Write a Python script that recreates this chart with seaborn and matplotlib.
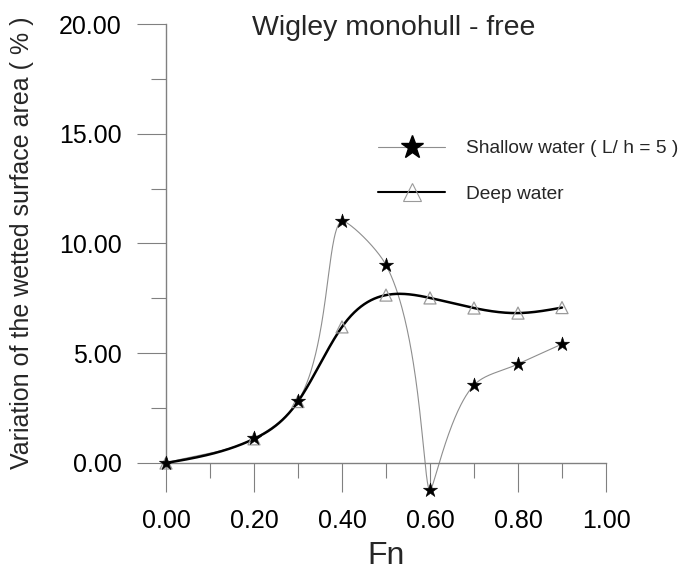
import numpy as np
import pandas as pd
import matplotlib
matplotlib.use("Agg")
import matplotlib.pyplot as plt
import seaborn as sns
from matplotlib.lines import Line2D
from matplotlib.ticker import MultipleLocator, FormatStrFormatter

# ---- data ----
fn_shallow = [0.0, 0.2, 0.3, 0.4, 0.5, 0.6, 0.7, 0.8, 0.9]
var_shallow = [0.0, 1.12, 2.82, 11.02, 9.02, -1.25, 3.55, 4.51, 5.42]
fn_deep = [0.0, 0.2, 0.3, 0.4, 0.5, 0.6, 0.7, 0.8, 0.9]
var_deep = [0.0, 1.10, 2.80, 6.20, 7.65, 7.52, 7.06, 6.83, 7.08]
labels = ["Shallow water ( L/ h = 5 )", "Deep water"]
title = "Wigley monohull - free"
xlabel = "Fn"
ylabel = "Variation of the wetted surface area ( % )"

# ---- layout (figure pixels) ----
FIG_W, FIG_H = 686, 574
AX_L, AX_R, AX_B, AX_T = 166, 606, 463, 24
X_RANGE, Y_RANGE = (0.0, 1.0), (0.0, 20.0)
SX = (AX_R - AX_L) / (X_RANGE[1] - X_RANGE[0])
SY = (AX_B - AX_T) / (Y_RANGE[1] - Y_RANGE[0])


def natural_spline(t, y, tt):
    t = np.asarray(t, float)
    y = np.asarray(y, float)
    n = len(t)
    h = np.diff(t)
    A = np.zeros((n, n))
    r = np.zeros(n)
    A[0, 0] = A[-1, -1] = 1.0
    for i in range(1, n - 1):
        A[i, i - 1] = h[i - 1]
        A[i, i] = 2 * (h[i - 1] + h[i])
        A[i, i + 1] = h[i]
        r[i] = 3 * ((y[i + 1] - y[i]) / h[i] - (y[i] - y[i - 1]) / h[i - 1])
    c = np.linalg.solve(A, r)
    b = (y[1:] - y[:-1]) / h - h * (2 * c[:-1] + c[1:]) / 3
    d = (c[1:] - c[:-1]) / (3 * h)
    idx = np.clip(np.searchsorted(t, tt, side="right") - 1, 0, n - 2)
    dx = tt - t[idx]
    return y[idx] + b[idx] * dx + c[idx] * dx ** 2 + d[idx] * dx ** 3


def smooth_bezier(x, y, sx, sy, c=0.36, n=80):
    """Parametric smoothing curve through the points (drawn in screen space)."""
    P = np.column_stack([np.asarray(x, float) * sx, np.asarray(y, float) * sy])
    seg = np.diff(P, axis=0)
    L = np.hypot(seg[:, 0], seg[:, 1])
    U = seg / L[:, None]
    N = len(P)
    D = np.zeros_like(P)
    F = np.ones(N)
    D[0], D[-1] = U[0], U[-1]
    for i in range(1, N - 1):
        sm = U[i - 1] + U[i]
        mag = np.hypot(*sm)
        D[i] = sm / mag
        F[i] = (mag / 2) ** 2
    t = np.linspace(0, 1, n)[:, None]
    out = []
    for i in range(N - 1):
        B0, B3 = P[i], P[i + 1]
        B1 = B0 + c * L[i] * F[i] * D[i]
        B2 = B3 - c * L[i] * F[i + 1] * D[i + 1]
        cur = ((1 - t) ** 3) * B0 + 3 * t * (1 - t) ** 2 * B1 + 3 * t ** 2 * (1 - t) * B2 + t ** 3 * B3
        out.append(cur if i == 0 else cur[1:])
    pts = np.vstack(out)
    return pts[:, 0] / sx, pts[:, 1] / sy


cx, cy = smooth_bezier(fn_shallow, var_shallow, SX, SY)
curve_sh = pd.DataFrame({"Fn": cx, "v": cy})

xd = np.asarray(fn_deep, float)
xx = np.linspace(xd[0], xd[-1], 600)
curve_dp = pd.DataFrame({"Fn": xx, "v": natural_spline(xd, var_deep, xx)})

pts_sh = pd.DataFrame({"Fn": fn_shallow, "v": var_shallow})
pts_dp = pd.DataFrame({"Fn": fn_deep, "v": var_deep})

sns.set_style("white")
plt.rcParams["font.family"] = ["Liberation Sans", "DejaVu Sans"]

fig = plt.figure(figsize=(FIG_W / 100, FIG_H / 100), dpi=100)
ax = fig.add_axes([AX_L / FIG_W, 1 - AX_B / FIG_H,
                   (AX_R - AX_L) / FIG_W, (AX_B - AX_T) / FIG_H])

grey = "#8e8e8e"
axis_col = "#808080"

sns.lineplot(data=curve_sh, x="Fn", y="v", sort=False, estimator=None, ax=ax,
             color=grey, lw=0.8, clip_on=False, zorder=2)
sns.lineplot(data=curve_dp, x="Fn", y="v", sort=False, estimator=None, ax=ax,
             color="black", lw=1.8, clip_on=False, zorder=3)
sns.scatterplot(data=pts_dp, x="Fn", y="v", ax=ax, marker="^", s=75,
                facecolor="none", edgecolor="#9a9a9a", linewidth=0.9,
                clip_on=False, zorder=4)
sns.scatterplot(data=pts_sh, x="Fn", y="v", ax=ax, marker="*", s=115,
                color="black", edgecolor="black", linewidth=0.4,
                clip_on=False, zorder=5)

ax.set_xlim(*X_RANGE)
ax.set_ylim(*Y_RANGE)
for side in ("top", "right"):
    ax.spines[side].set_visible(False)
for side in ("left", "bottom"):
    ax.spines[side].set_color(axis_col)
    ax.spines[side].set_linewidth(1.0)

ax.xaxis.set_major_locator(MultipleLocator(0.2))
ax.xaxis.set_minor_locator(MultipleLocator(0.1))
ax.yaxis.set_major_locator(MultipleLocator(5))
ax.yaxis.set_minor_locator(MultipleLocator(2.5))
ax.xaxis.set_major_formatter(FormatStrFormatter("%.2f"))
ax.yaxis.set_major_formatter(FormatStrFormatter("%.2f"))
ax.tick_params(which="major", direction="out", length=21, width=0.8,
               color=axis_col, labelsize=18, labelcolor="black")
ax.tick_params(which="minor", direction="out", length=10.5, width=0.8,
               color=axis_col)
ax.tick_params(axis="x", which="major", pad=12)
ax.tick_params(axis="y", which="major", pad=11)
ax.tick_params(axis="x", which="both", bottom=True)
ax.tick_params(axis="y", which="both", left=True)

ax.set_xlabel(xlabel, fontsize=23, labelpad=6)
ax.set_ylabel("")
fig.text(22 / FIG_W, 1 - 243 / FIG_H, ylabel, rotation=90, fontsize=18,
         ha="center", va="center")
fig.text(394 / FIG_W, 1 - 28 / FIG_H, title, fontsize=20.5, ha="center", va="center")

handles = [
    Line2D([], [], color=grey, lw=0.8, marker="*", markersize=17,
           markerfacecolor="black", markeredgecolor="black"),
    Line2D([], [], color="black", lw=1.5, marker="^", markersize=13,
           markerfacecolor="none", markeredgecolor="#9a9a9a", markeredgewidth=0.8),
]
ax.legend(handles, labels, loc="upper left",
          bbox_to_anchor=(378 / FIG_W, 1 - 140 / FIG_H), bbox_transform=fig.transFigure,
          frameon=False, fontsize=13.8, handlelength=3.5, handletextpad=1.1,
          labelspacing=1.45, borderpad=0, borderaxespad=0)

fig.savefig("out.png", dpi=100)
